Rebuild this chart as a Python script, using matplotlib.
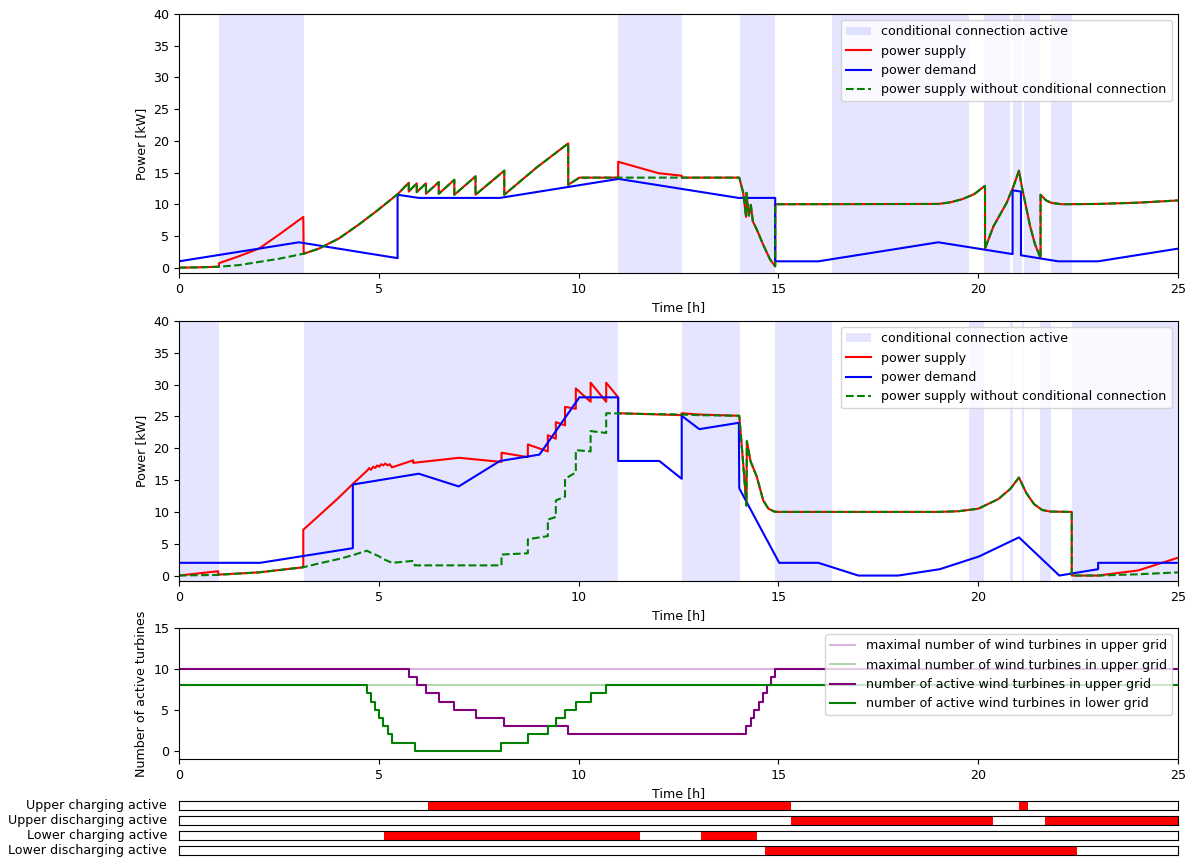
import numpy as np
import matplotlib.pyplot as plt

plt.rcParams['font.size'] = 9.1

# ---- upper grid: power [kW] over time [h] ----
up_demand_t = [0, 3.0, 5.47, 5.47, 6.0, 8.03, 11.0, 14.0, 14.92, 14.92, 16.0, 19.0,
               20.86, 20.86, 21.07, 21.07, 22.0, 23.0, 25.0]
up_demand_p = [1.0, 4.0, 1.5, 11.5, 11.0, 11.0, 14.0, 11.0, 11.0, 1.0, 1.0, 4.0,
               2.14, 12.2, 12.0, 1.95, 1.0, 1.0, 3.0]

up_nocc_t = [0, 0.5, 1.0, 1.5, 2.0, 2.5, 3.12, 3.5, 4.0, 4.5, 5.0, 5.49,
             5.75, 5.75, 5.95, 5.95, 6.18, 6.18, 6.5, 6.5, 6.89, 6.89, 7.42, 7.42,
             8.14, 8.14, 8.95, 9.74, 9.74, 10.02, 14.02, 14.12, 14.19, 14.2, 14.26,
             14.31, 14.36, 14.46, 14.62, 14.79, 14.92, 14.92, 19.0, 19.3, 19.6, 19.9,
             20.17, 20.17, 20.38, 20.71, 20.88, 21.02, 21.1, 21.2, 21.3, 21.42, 21.56,
             21.56, 21.7, 21.84, 22.1, 23.0, 24.0, 25.0]
up_nocc_p = [0.0, 0.05, 0.15, 0.4, 0.9, 1.4, 2.2, 3.0, 4.6, 6.8, 9.2, 11.7,
             13.4, 12.0, 13.3, 11.9, 13.3, 11.65, 13.5, 11.65, 13.86, 11.5, 14.4, 11.5,
             15.3, 11.5, 15.8, 19.6, 13.07, 14.2, 14.2, 11.8, 8.0, 11.8, 8.2,
             9.9, 7.3, 6.0, 3.6, 1.3, 0.2, 10.0, 10.05, 10.3, 10.8, 11.6,
             12.9, 3.0, 6.5, 10.2, 12.8, 15.3, 12.5, 9.5, 6.5, 3.7, 1.5,
             11.5, 10.6, 10.2, 10.0, 10.05, 10.25, 10.6]

up_supply_t = [0, 0.5, 1.0, 1.0, 1.5, 2.0, 2.5, 3.11, 3.12, 3.5, 4.0, 4.5, 5.0, 5.49,
               5.75, 5.75, 5.95, 5.95, 6.18, 6.18, 6.5, 6.5, 6.89, 6.89, 7.42, 7.42,
               8.14, 8.14, 8.95, 9.74, 9.74, 10.02, 10.99, 10.99, 12.0, 12.58, 12.58,
               14.02, 14.12, 14.19, 14.2, 14.26, 14.31, 14.36, 14.46, 14.62, 14.79,
               14.92, 14.92, 19.0, 19.3, 19.6, 19.9, 20.17, 20.17, 20.38, 20.71, 20.88,
               21.02, 21.1, 21.2, 21.3, 21.42, 21.56, 21.56, 21.7, 21.84, 22.1, 23.0,
               24.0, 25.0]
up_supply_p = [0.0, 0.05, 0.15, 0.7, 1.8, 3.0, 5.2, 8.0, 2.2, 3.0, 4.6, 6.8, 9.2, 11.7,
               13.4, 12.0, 13.3, 11.9, 13.3, 11.65, 13.5, 11.65, 13.86, 11.5, 14.4, 11.5,
               15.3, 11.5, 15.8, 19.6, 13.07, 14.2, 14.2, 16.7, 14.9, 14.5, 14.2,
               14.2, 11.8, 8.0, 11.8, 8.2, 9.9, 7.3, 6.0, 3.6, 1.3,
               0.2, 10.0, 10.05, 10.3, 10.8, 11.6, 12.9, 3.0, 6.5, 10.2, 12.8,
               15.3, 12.5, 9.5, 6.5, 3.7, 1.5, 11.5, 10.6, 10.2, 10.0, 10.05,
               10.25, 10.6]

up_cc_start = [1.0, 10.99, 14.04, 16.34, 20.15, 20.87, 21.15, 21.82]
up_cc_end = [3.13, 12.59, 14.92, 19.77, 20.80, 21.10, 21.55, 22.35]

# ---- lower grid ----
lo_demand_t = [0, 2.03, 4.35, 4.35, 6.0, 7.0, 8.03, 9.02, 10.02, 10.99, 10.99, 12.02,
               12.58, 12.58, 13.02, 14.01, 14.02, 15.02, 16.0, 17.0, 18.0, 19.04,
               20.02, 21.02, 22.03, 23.0, 23.0, 25.0]
lo_demand_p = [2.0, 2.0, 4.3, 14.3, 16.0, 14.0, 18.0, 19.0, 28.0, 28.0, 18.0, 18.0,
               15.2, 25.1, 23.0, 24.0, 13.7, 2.0, 2.0, 0.0, 0.0, 1.0,
               3.0, 6.0, 0.0, 1.0, 2.0, 2.0]

lo_supply_t = [0, 0.98, 0.98, 2.0, 3.11, 3.11, 3.5, 3.99, 4.35, 4.71, 4.76, 4.8, 4.86,
               4.91, 4.96, 5.01, 5.06, 5.11, 5.16, 5.22, 5.27, 5.33, 5.86, 5.86, 6.0,
               7.01, 8.07, 8.07, 8.73, 8.73, 9.23, 9.23, 9.43, 9.43, 9.66, 9.66, 9.93,
               9.93, 10.3, 10.3, 10.69, 10.69, 10.99, 10.99, 12.58, 12.58, 13.0, 14.02,
               14.1, 14.2, 14.21, 14.3, 14.46, 14.62, 14.75, 14.9, 15.0, 19.0, 19.5,
               20.0, 20.5, 20.8, 21.02, 21.2, 21.4, 21.6, 21.8, 22.34, 22.34, 23.0,
               24.0, 25.0]
lo_supply_p = [0.0, 0.68, 0.15, 0.5, 1.3, 7.2, 9.4, 12.2, 14.4, 16.5, 16.9, 16.6, 17.1,
               16.9, 17.3, 17.1, 17.5, 17.3, 17.6, 17.3, 17.5, 17.0, 18.1, 17.7, 17.8,
               18.5, 17.85, 19.3, 18.6, 20.6, 19.5, 22.05, 21.5, 24.1, 23.6, 26.5, 26.2,
               29.4, 27.3, 30.3, 27.3, 30.3, 28.0, 25.5, 25.2, 25.5, 25.3, 25.1,
               19.0, 11.0, 21.1, 18.0, 15.5, 11.8, 10.5, 10.05, 10.0, 10.0, 10.1,
               10.5, 12.0, 13.6, 15.4, 13.0, 11.2, 10.3, 10.05, 10.0, 0.0, 0.0,
               0.8, 2.8]

lo_nocc_t = [0, 0.98, 2.0, 3.11, 3.5, 4.0, 4.35, 4.7, 4.8, 4.91, 5.01, 5.11, 5.22,
             5.33, 5.86, 5.9, 8.07, 8.07, 8.73, 8.73, 9.23, 9.23, 9.43, 9.43, 9.66,
             9.66, 9.93, 9.93, 10.3, 10.3, 10.69, 10.69, 12.58, 13.0, 14.02, 14.1,
             14.2, 14.21, 14.3, 14.46, 14.62, 14.75, 14.9, 15.0, 19.0, 19.5, 20.0,
             20.5, 20.8, 21.02, 21.2, 21.4, 21.6, 21.8, 22.34, 22.34, 23.0, 24.0, 25.0]
lo_nocc_p = [0.0, 0.1, 0.5, 1.3, 1.9, 2.6, 3.2, 3.9, 3.6, 3.3, 3.0, 2.6, 2.3,
             2.0, 2.3, 1.6, 1.6, 3.3, 3.5, 5.7, 6.2, 8.8, 9.2, 11.8, 12.4,
             15.2, 16.2, 19.7, 19.5, 22.7, 22.4, 25.5, 25.3, 25.2, 25.1, 19.0,
             11.0, 21.1, 18.0, 15.5, 11.8, 10.5, 10.05, 10.0, 10.0, 10.1, 10.5,
             12.0, 13.6, 15.4, 13.0, 11.2, 10.3, 10.05, 10.0, 0.0, 0.0, 0.2, 0.5]

lo_cc_start = [0.0, 3.13, 12.59, 14.92, 19.77, 20.80, 21.10, 21.55, 22.35]
lo_cc_end = [1.0, 10.99, 14.04, 16.34, 20.15, 20.87, 21.15, 21.82, 25.0]

# ---- wind turbines ----
t_range = [0, 25]
max_upper = 10
max_lower = 8
upper_t = [0, 5.75, 5.95, 6.18, 6.5, 6.89, 7.42, 8.14, 9.74, 14.19, 14.31, 14.4,
           14.52, 14.61, 14.72, 14.81, 14.92, 25]
upper_n = [10, 9, 8, 7, 6, 5, 4, 3, 2, 3, 4, 5, 6, 7, 8, 9, 10, 10]
lower_t = [0, 4.71, 4.8, 4.91, 5.01, 5.11, 5.22, 5.33, 5.9, 8.07, 8.73, 9.23,
           9.43, 9.66, 9.93, 10.3, 10.69, 25]
lower_n = [8, 7, 6, 5, 4, 3, 2, 1, 0, 1, 2, 3, 4, 5, 6, 7, 8, 8]

# ---- storage state indicators ----
state_labels = ['Upper charging active', 'Upper discharging active',
                'Lower charging active', 'Lower discharging active']
state_start = [[6.22, 21.02], [15.31, 21.68], [5.13, 13.06], [14.66]]
state_end = [[15.31, 21.24], [20.36, 25.0], [11.54, 14.46], [22.46]]


def power_panel(ax, cc_start, cc_end, sup_t, sup_p, dem_t, dem_p, nocc_t, nocc_p):
    for i, (a, b) in enumerate(zip(cc_start, cc_end)):
        ax.axvspan(a, b, color='blue', alpha=0.1, lw=0,
                   label='conditional connection active' if i == 0 else None)
    ax.plot(sup_t, sup_p, 'r', label='power supply')
    ax.plot(dem_t, dem_p, 'b', label='power demand')
    ax.plot(nocc_t, nocc_p, 'g--', label='power supply without conditional connection')
    ax.set_xlim(0, 25)
    ax.set_ylim(-0.85, 40)
    ax.set_xlabel('Time [h]')
    ax.set_ylabel('Power [kW]')
    ax.legend(loc='upper right')


fig = plt.figure(figsize=(11.91, 8.57), dpi=100)
L, W = 0.1503, 0.8388

ax1 = fig.add_axes([L, 0.6814, W, 0.3022])
power_panel(ax1, up_cc_start, up_cc_end, up_supply_t, up_supply_p,
            up_demand_t, up_demand_p, up_nocc_t, up_nocc_p)

ax2 = fig.add_axes([L, 0.3221, W, 0.3034])
power_panel(ax2, lo_cc_start, lo_cc_end, lo_supply_t, lo_supply_p,
            lo_demand_t, lo_demand_p, lo_nocc_t, lo_nocc_p)

ax3 = fig.add_axes([L, 0.1144, W, 0.1529])
ax3.plot(t_range, [max_upper] * 2, color='purple', alpha=0.3,
         label='maximal number of wind turbines in upper grid')
ax3.plot(t_range, [max_lower] * 2, color='green', alpha=0.3,
         label='maximal number of wind turbines in upper grid')
ax3.plot(upper_t, upper_n, color='purple', drawstyle='steps-post',
         label='number of active wind turbines in upper grid')
ax3.plot(lower_t, lower_n, color='green', drawstyle='steps-post',
         label='number of active wind turbines in lower grid')
ax3.set_xlim(0, 25)
ax3.set_ylim(-1, 15)
ax3.set_yticks([0, 5, 10, 15])
ax3.set_xlabel('Time [h]')
ax3.set_ylabel('Number of active turbines')
ax3.legend(loc='upper right')

bar_bottoms = [0.0548, 0.0373, 0.0198, 0.0023]
for label, starts, ends, b in zip(state_labels, state_start, state_end, bar_bottoms):
    ax = fig.add_axes([L, b, W, 0.0107])
    for a, e in zip(starts, ends):
        ax.axvspan(a, e, color='red', lw=0)
    ax.set_xlim(0, 25)
    ax.set_xticks([])
    ax.set_yticks([])
    ax.set_ylabel(label, rotation=0, ha='right', va='center')
    ax.yaxis.set_label_coords(-0.012, 0.5)

fig.savefig('out.png', dpi=100)
